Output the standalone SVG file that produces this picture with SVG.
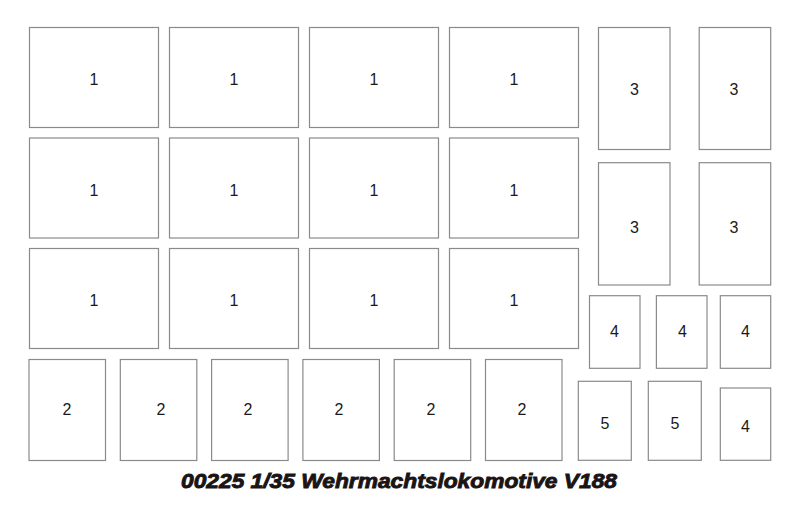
<svg xmlns="http://www.w3.org/2000/svg" width="800" height="525" viewBox="0 0 800 525">
<style>
rect.b{fill:#fff;stroke:#8a8a8a;stroke-width:1.2}
text.l{font-family:"Liberation Sans",Arial,sans-serif;font-size:16px;fill:#1a1a1a;text-anchor:middle;dominant-baseline:central}
text.t{font-family:"Liberation Sans",Arial,sans-serif;font-size:21px;font-weight:bold;font-style:italic;fill:#1a1414;stroke:#1a1414;stroke-width:0.9;text-anchor:middle}
</style>
<rect width="800" height="525" fill="#fff"/>
<g id="p1-1"><rect class="b" x="29.5" y="27.5" width="129" height="100"/><text class="l" x="94" y="79">1</text></g>
<g id="p1-2"><rect class="b" x="169.5" y="27.5" width="129" height="100"/><text class="l" x="234" y="79">1</text></g>
<g id="p1-3"><rect class="b" x="309.5" y="27.5" width="129" height="100"/><text class="l" x="374" y="79">1</text></g>
<g id="p1-4"><rect class="b" x="449.5" y="27.5" width="129" height="100"/><text class="l" x="514" y="79">1</text></g>
<g id="p1-5"><rect class="b" x="29.5" y="138" width="129" height="100"/><text class="l" x="94" y="190">1</text></g>
<g id="p1-6"><rect class="b" x="169.5" y="138" width="129" height="100"/><text class="l" x="234" y="190">1</text></g>
<g id="p1-7"><rect class="b" x="309.5" y="138" width="129" height="100"/><text class="l" x="374" y="190">1</text></g>
<g id="p1-8"><rect class="b" x="449.5" y="138" width="129" height="100"/><text class="l" x="514" y="190">1</text></g>
<g id="p1-9"><rect class="b" x="29.5" y="248.5" width="129" height="100"/><text class="l" x="94" y="300">1</text></g>
<g id="p1-10"><rect class="b" x="169.5" y="248.5" width="129" height="100"/><text class="l" x="234" y="300">1</text></g>
<g id="p1-11"><rect class="b" x="309.5" y="248.5" width="129" height="100"/><text class="l" x="374" y="300">1</text></g>
<g id="p1-12"><rect class="b" x="449.5" y="248.5" width="129" height="100"/><text class="l" x="514" y="300">1</text></g>
<g id="p2-1"><rect class="b" x="29" y="359.5" width="76.5" height="101"/><text class="l" x="67" y="409">2</text></g>
<g id="p2-2"><rect class="b" x="120.3" y="359.5" width="76.5" height="101"/><text class="l" x="161" y="409">2</text></g>
<g id="p2-3"><rect class="b" x="211.6" y="359.5" width="76.5" height="101"/><text class="l" x="248" y="409">2</text></g>
<g id="p2-4"><rect class="b" x="302.9" y="359.5" width="76.5" height="101"/><text class="l" x="339" y="409">2</text></g>
<g id="p2-5"><rect class="b" x="394.2" y="359.5" width="76.5" height="101"/><text class="l" x="431" y="409">2</text></g>
<g id="p2-6"><rect class="b" x="485.5" y="359.5" width="76.5" height="101"/><text class="l" x="522" y="409">2</text></g>
<g id="p3-1"><rect class="b" x="598.5" y="27.5" width="71.5" height="122"/><text class="l" x="634.5" y="89">3</text></g>
<g id="p3-2"><rect class="b" x="699.2" y="27.5" width="71.5" height="122"/><text class="l" x="734" y="89">3</text></g>
<g id="p3-3"><rect class="b" x="598.5" y="162.7" width="71.5" height="122.3"/><text class="l" x="634.5" y="227">3</text></g>
<g id="p3-4"><rect class="b" x="699.2" y="162.7" width="71.5" height="122.3"/><text class="l" x="734" y="227">3</text></g>
<g id="p4-1"><rect class="b" x="589.5" y="295.7" width="50.5" height="72.6"/><text class="l" x="614.5" y="331">4</text></g>
<g id="p4-2"><rect class="b" x="656.4" y="295.7" width="50.6" height="72.6"/><text class="l" x="682.5" y="331">4</text></g>
<g id="p4-3"><rect class="b" x="720.3" y="295.7" width="50.4" height="72.6"/><text class="l" x="745.5" y="331">4</text></g>
<g id="p5-1"><rect class="b" x="578.3" y="381.3" width="53" height="79"/><text class="l" x="605" y="423">5</text></g>
<g id="p5-2"><rect class="b" x="648.3" y="381.3" width="53" height="79"/><text class="l" x="675" y="423">5</text></g>
<g id="p4-4"><rect class="b" x="720.3" y="388" width="50.4" height="72.3"/><text class="l" x="745.5" y="426">4</text></g>
<g id="connectors"></g>
<text class="t" x="399" y="488" textLength="436" lengthAdjust="spacingAndGlyphs">00225 1/35 Wehrmachtslokomotive V188</text>
</svg>
